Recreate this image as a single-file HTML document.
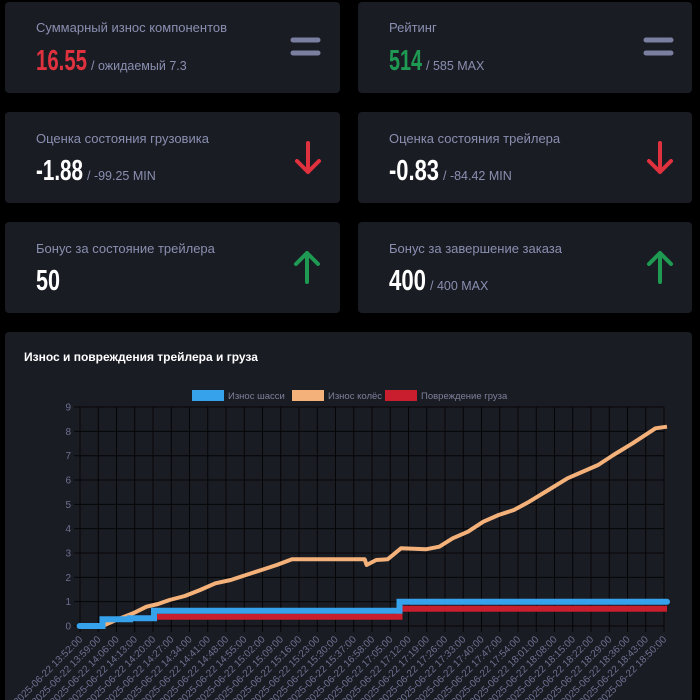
<!DOCTYPE html>
<html><head><meta charset="utf-8"><style>
html,body{margin:0;padding:0;background:#000;width:700px;height:700px;overflow:hidden}
svg{display:block;font-family:"Liberation Sans","DejaVu Sans",sans-serif}
.lbl{fill:#8a8fb0;font-size:13px}
.big{font-weight:bold;font-size:29px}
.sub{fill:#8a8fb0;font-size:12.5px}
.tk{fill:#6d7190;font-size:10px}
.lg{fill:#7d8199;font-size:9.5px}
</style></head><body>
<svg width="700" height="700" viewBox="0 0 700 700">
<rect width="700" height="700" fill="#000"/>
<g fill="#1a1c24">
<rect x="5" y="2" width="335" height="91" rx="4"/>
<rect x="358" y="2" width="334" height="91" rx="4"/>
<rect x="5" y="112" width="335" height="91" rx="4"/>
<rect x="358" y="112" width="334" height="91" rx="4"/>
<rect x="5" y="222" width="335" height="91" rx="4"/>
<rect x="358" y="222" width="334" height="91" rx="4"/>
<rect x="5" y="332" width="687" height="380" rx="4"/>
</g>
<text class="lbl" x="36" y="32">Суммарный износ компонентов</text>
<text class="big" fill="#e0323e" x="36" y="70" textLength="51" lengthAdjust="spacingAndGlyphs">16.55</text>
<text class="sub" x="91" y="70">/ ожидаемый 7.3</text>
<text class="lbl" x="389" y="32">Рейтинг</text>
<text class="big" fill="#1e9a52" x="389" y="70" textLength="33" lengthAdjust="spacingAndGlyphs">514</text>
<text class="sub" x="426" y="70">/ 585 MAX</text>
<text class="lbl" x="36" y="143">Оценка состояния грузовика</text>
<text class="big" fill="#fff" x="36" y="180" textLength="47" lengthAdjust="spacingAndGlyphs">-1.88</text>
<text class="sub" x="87" y="180">/ -99.25 MIN</text>
<text class="lbl" x="389" y="143">Оценка состояния трейлера</text>
<text class="big" fill="#fff" x="389" y="180" textLength="50" lengthAdjust="spacingAndGlyphs">-0.83</text>
<text class="sub" x="443" y="180">/ -84.42 MIN</text>
<text class="lbl" x="36" y="253">Бонус за состояние трейлера</text>
<text class="big" fill="#fff" x="36" y="290" textLength="24" lengthAdjust="spacingAndGlyphs">50</text>
<text class="lbl" x="389" y="253">Бонус за завершение заказа</text>
<text class="big" fill="#fff" x="389" y="290" textLength="37" lengthAdjust="spacingAndGlyphs">400</text>
<text class="sub" x="430" y="290">/ 400 MAX</text>
<g stroke="#7a7fa0" stroke-width="5" stroke-linecap="round">
<line x1="293" y1="40" x2="318" y2="40"/><line x1="293" y1="53" x2="318" y2="53"/>
<line x1="646" y1="40" x2="671" y2="40"/><line x1="646" y1="53" x2="671" y2="53"/>
</g>
<g fill="none" stroke="#e0323e" stroke-width="4" stroke-linecap="round" stroke-linejoin="round">
<path d="M308 143V172M297 161L308 172L319 161"/>
<path d="M660 143V172M649 161L660 172L671 161"/>
</g>
<g fill="none" stroke="#1e9a52" stroke-width="4" stroke-linecap="round" stroke-linejoin="round">
<path d="M307 282V253M296 264L307 253L318 264"/>
<path d="M660 282V253M649 264L660 253L671 264"/>
</g>
<text x="24" y="361" fill="#fff" font-size="12" font-weight="bold">Износ и повреждения трейлера и груза</text>
<rect x="192" y="390" width="32" height="11" fill="#36a2eb"/><text class="lg" x="228" y="399">Износ шасси</text>
<rect x="292" y="390" width="32" height="11" fill="#f4b27a"/><text class="lg" x="328" y="399">Износ колёс</text>
<rect x="385" y="390" width="32" height="11" fill="#c81e2d"/><text class="lg" x="421" y="399">Повреждение груза</text>
<g id="grid" stroke="#050506" stroke-width="1"></g>
<g id="ticks"></g>
<polyline fill="none" stroke="#f4b27a" stroke-width="4" stroke-linejoin="round" points="102.5,626 115.9,620 133.1,613.3 146.5,606.7 158,604 169.5,600 184.8,596 200.1,590 215.4,583.3 230.7,580 246,575 261.4,570 276.7,565 292,559.3 364.7,559.3 366.6,565 376.2,560 387.6,559.3 401,548.3 425.9,549.3 439.3,546.7 452.7,538.3 468,531.7 483.3,521.7 498.6,515 513.9,510 529.2,501.7 548.4,490 567.5,478.3 586.6,470 598.1,465 613.4,455 632.6,443.3 655.5,428.3 667,426.7"/>
<polyline fill="none" stroke="#c81e2d" stroke-width="6" points="154,616.7 399.5,616.7 399.5,608.7 667,608.7"/>
<polyline fill="none" stroke="#36a2eb" stroke-width="6" stroke-linecap="round" points="79.6,626 102.5,626 102.5,619.3 130,619.3 130,618.3 154,618.3 154,610.7 399.5,610.7 399.5,601.7 667,601.7"/>
</svg>
<script>
var g=document.getElementById('grid'),t=document.getElementById('ticks'),ns="http://www.w3.org/2000/svg";
var labs=["13:52","13:59","14:06","14:13","14:20","14:27","14:34","14:41","14:48","14:55","15:02","15:09","15:16","15:23","15:30","15:37","16:58","17:05","17:12","17:19","17:26","17:33","17:40","17:47","17:54","18:01","18:08","18:15","18:22","18:29","18:36","18:43","18:50"];
function L(a,b,c,d){var l=document.createElementNS(ns,'line');l.setAttribute('x1',a);l.setAttribute('y1',b);l.setAttribute('x2',c);l.setAttribute('y2',d);g.appendChild(l);}
for(var k=0;k<33;k++){var x=80+18.25*k;L(x,407,x,632);
var tx=document.createElementNS(ns,'text');tx.setAttribute('class','tk');tx.setAttribute('text-anchor','end');tx.setAttribute('transform','translate('+(x+3)+',640) rotate(-45)');tx.textContent="2025-06-22 "+labs[k]+":00";t.appendChild(tx);}
for(var i=0;i<=9;i++){var y=626-24.33*i;L(74,y,664,y);
var ty=document.createElementNS(ns,'text');ty.setAttribute('class','tk');ty.setAttribute('text-anchor','end');ty.setAttribute('x',71);ty.setAttribute('y',y+3.5);ty.textContent=i;t.appendChild(ty);}
</script>
</body></html>
